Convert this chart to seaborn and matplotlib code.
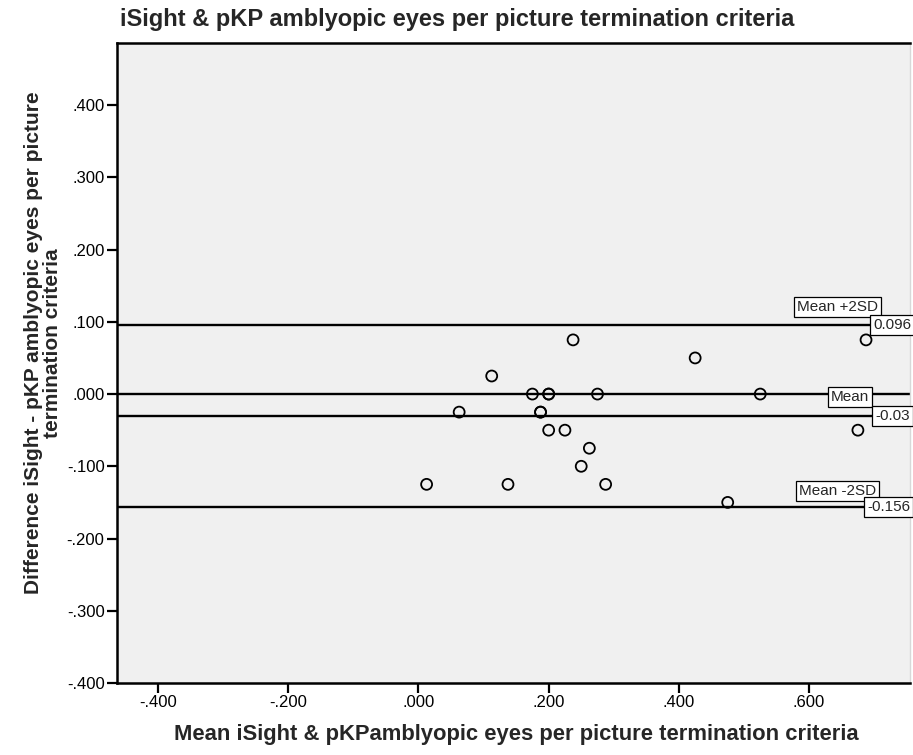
"""
Bland-Altman style plot: iSight vs pKP, amblyopic eyes per picture termination criteria.
"""

import matplotlib
matplotlib.use("Agg")
import matplotlib.pyplot as plt
import seaborn as sns
import pandas as pd
from matplotlib.ticker import FuncFormatter

# mean of the two methods (x) and their difference (y)
mean_vals = [0.2375, 0.425, 0.1125, 0.175, 0.200, 0.200, 0.275, 0.525,
             0.0625, 0.1875, 0.1875, 0.200, 0.225, 0.2625, 0.250,
             0.0125, 0.1375, 0.2875, 0.6875, 0.675, 0.475]
diff_vals = [0.075, 0.050, 0.025, 0.000, 0.000, 0.000, 0.000, 0.000,
             -0.025, -0.025, -0.025, -0.050, -0.050, -0.075, -0.100,
             -0.125, -0.125, -0.125, 0.075, -0.050, -0.150]

# reference lines: zero line, mean and mean +/- 2SD
ref_zero = 0.0
limit_values = [0.096, -0.03, -0.156]
limit_texts = ["0.096", "-0.03", "-0.156"]
line_names = ["Mean +2SD", "Mean", "Mean -2SD"]

x_ticks = [-0.4, -0.2, 0.0, 0.2, 0.4, 0.6]
y_ticks = [-0.4, -0.3, -0.2, -0.1, 0.0, 0.1, 0.2, 0.3, 0.4]


def spss_fmt(v, pos=None):
    s = f"{v:.3f}"
    if s.startswith("-0"):
        s = "-" + s[2:]
    elif s.startswith("0"):
        s = s[1:]
    return s


sns.set_theme(style="white")
plt.rcParams['font.family'] = ['Liberation Sans', 'DejaVu Sans']

df = pd.DataFrame({'mean': mean_vals, 'diff': diff_vals})

fig = plt.figure(figsize=(9.13, 7.55), dpi=100)
ax = fig.add_axes([0.1282, 0.0954, 0.8685, 0.8476])
ax.set_facecolor('#f0f0f0')

# reference lines first, points on top
ax.axhline(ref_zero, color='black', lw=1.7, zorder=1)
for v in limit_values:
    ax.axhline(v, color='black', lw=1.7, zorder=1)

sns.scatterplot(data=df, x='mean', y='diff', ax=ax, s=62,
                facecolor='none', edgecolor='black', linewidth=1.3, zorder=3)

ax.set_xlim(-0.463, 0.755)
ax.set_ylim(-0.4, 0.486)
ax.set_xticks(x_ticks)
ax.set_yticks(y_ticks)
ax.xaxis.set_major_formatter(FuncFormatter(spss_fmt))
ax.yaxis.set_major_formatter(FuncFormatter(spss_fmt))
ax.tick_params(axis='both', direction='out', length=7, width=1.6,
               labelsize=12, colors='black', bottom=True, left=True, pad=2)
ax.set_xlabel('')
ax.set_ylabel('')

for side in ['left', 'bottom', 'top']:
    ax.spines[side].set_color('black')
    ax.spines[side].set_linewidth(1.8)
ax.spines['right'].set_color('#d8d8d8')
ax.spines['right'].set_linewidth(1.0)

# line labels, SPSS style boxes
box = dict(boxstyle='square,pad=0.2', facecolor='white', edgecolor='black', lw=0.9)
name_pos = [(0.644, 0.120), (0.663, -0.0035), (0.644, -0.1336)]
value_x = [0.699, 0.702, 0.689]
for name, (nx, ny) in zip(line_names, name_pos):
    ax.text(nx, ny, name, ha='center', va='center', fontsize=11,
            bbox=box, clip_on=False, zorder=4)
for v, t, vx in zip(limit_values, limit_texts, value_x):
    ax.text(vx, v, t, ha='left', va='center', fontsize=11,
            bbox=box, clip_on=False, zorder=4)

fig.text(0.131, 0.990, 'iSight & pKP amblyopic eyes per picture termination criteria',
         ha='left', va='top', fontsize=17, fontweight='bold')
fig.text(0.566, 0.027, 'Mean iSight & pKPamblyopic eyes per picture termination criteria',
         ha='center', va='center', fontsize=15.8, fontweight='bold')
fig.text(0.047, 0.546, 'Difference iSight - pKP amblyopic eyes per picture\ntermination criteria',
         ha='center', va='center', rotation=90, fontsize=15, fontweight='bold',
         multialignment='center', linespacing=1.0)

fig.savefig('out.png', dpi=100)
plt.close(fig)
